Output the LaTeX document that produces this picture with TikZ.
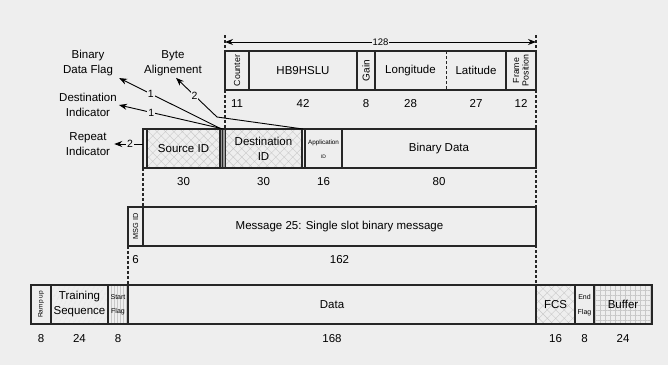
\documentclass[tikz,border=0pt]{standalone}
\usepackage{fontspec}
\setmainfont{Liberation Sans}
\usetikzlibrary{arrows.meta,patterns.meta}
\definecolor{bg}{RGB}{238,238,238}
\definecolor{hatchgray}{RGB}{200,200,200}
\tikzset{
  field/.style={draw=black!85,line width=1.2pt},
  txt/.style={font=\fontsize{11.5}{15}\selectfont,align=center,inner sep=1pt},
  side/.style={rotate=90,align=center,inner sep=0pt},
  tiny/.style={font=\fontsize{7}{14.5}\selectfont,align=center,inner sep=0pt},
  guide/.style={draw=black!85,line width=1.2pt,dash pattern=on 3pt off 2pt},
  lead/.style={line width=0.9pt,-{Stealth[length=8pt,width=6pt]}},
  lnum/.style={fill=bg,inner sep=1pt,font=\fontsize{10.5}{12}\selectfont},
  xhatch/.style={pattern={Hatch[angle=45,distance=6pt,line width=0.4pt]},pattern color=hatchgray},
  grid hatch/.style={pattern={Hatch[angle=0,distance=5pt,line width=0.4pt]},pattern color=hatchgray},
  slant hatch/.style={pattern={Lines[angle=60,distance=4pt,line width=0.4pt]},pattern color=hatchgray},
  vert hatch/.style={pattern={Lines[angle=90,distance=3pt,line width=0.4pt]},pattern color=hatchgray},
}
\begin{document}
\begin{tikzpicture}[x=1pt,y=-1pt]
	\useasboundingbox[fill=bg] (0,0) rectangle (668,365);
	% dashed guides between the rows
	\draw[guide] (225,35) -- (225,129);
	\draw[guide] (536,35) -- (536,285);
	\draw[guide] (143,168) -- (143,207);
	\draw[guide] (128,246) -- (128,285);
	% 128 bit span
	\coordinate (spanl) at (225,42);
	\coordinate (spanr) at (536,42);
	\draw[line width=0.9pt,{Stealth[length=8pt,width=6pt]}-{Stealth[length=8pt,width=6pt]}] (spanl) -- node[lnum,font=\fontsize{9.5}{11}\selectfont] (t128) {128} (spanr);
	% row 1: binary data
	\draw[field] (225,51) rectangle (536,90);
	\draw[field] (249,51) -- (249,90) (357,51) -- (357,90) (375,51) -- (375,90) (506,51) -- (506,90);
	\draw[draw=black!85,line width=0.9pt,dash pattern=on 3pt off 2pt] (446,51) -- (446,90); % Longitude/Latitude
	\node[side,font=\fontsize{8.8}{10}\selectfont] (ctr) at (237,70.5) {Counter};
	\node[txt] (call) at (303,70.5) {HB9HSLU};
	\node[side,font=\fontsize{10}{10}\selectfont] (gain) at (366,70.5) {Gain};
	\node[txt] (lon) at (410.5,70.5) {Longitude};
	\node[txt] (lat) at (476,70.5) {Latitude};
	\node[side,font=\fontsize{8.8}{9.5}\selectfont] (fpos) at (521,70.5) {Frame\\Position};
	\node[txt] (b11) at (237,103.5) {11};
	\node[txt] (b42) at (303,103.5) {42};
	\node[txt] (b8a) at (366,103.5) {8};
	\node[txt] (b28) at (410.5,103.5) {28};
	\node[txt] (b27) at (476,103.5) {27};
	\node[txt] (b12) at (521,103.5) {12};
	% row 2: message 25 fields
	\draw[field,xhatch] (147,129) rectangle (220,168);
	\draw[field,xhatch] (225,129) rectangle (302,168);
	\draw[draw=black!85,line width=0.6pt,fill=black!40] (220,129) rectangle (222.5,168) (222.5,129) rectangle (225,168);
	\draw[field] (143,129) rectangle (536,168);
	\draw[field] (147,129) -- (147,168) (302,129) -- (302,168) (305,129) -- (305,168) (342,129) -- (342,168);
	\node[txt] (src) at (183.5,148.5) {Source ID};
	\node[txt] (dst) at (263.5,148.5) {Destination\\ID};
	\node[align=center,inner sep=0pt,font=\fontsize{6.3}{14}\selectfont] (app) at (323.5,149) {Application\\{\fontsize{5}{6}\selectfont ID}};
	\node[txt] (bin) at (439,148.5) {Binary Data};
	\node[txt] (b30a) at (183.5,181.5) {30};
	\node[txt] (b30b) at (263.5,181.5) {30};
	\node[txt] (b16a) at (323.5,181.5) {16};
	\node[txt] (b80) at (439,181.5) {80};
	% labels of the small fields
	\node[txt] (bdf) at (88,63) {Binary\\Data Flag};
	\node[txt] (ba) at (173,63) {Byte\\Alignement};
	\node[txt] (di) at (88,105) {Destination\\Indicator};
	\node[txt] (ri) at (88,144) {Repeat\\Indicator};
	\coordinate (bdfbit) at (221.5,129);
	\coordinate (dibit) at (223.5,129);
	\coordinate (babit) at (303,129);
	\coordinate (babend) at (217,117);
	\coordinate (ribit) at (143,144);
	\draw[lead] (bdfbit) -- node[lnum,pos=.69] (nbdf) {1} ([xshift=5pt,yshift=-1pt]bdf.south east);
	\draw[lead] (dibit) -- node[lnum,pos=.69] (ndi) {1} ([xshift=1pt]di.east);
	\draw[line width=0.9pt] (babit) -- (babend);
	\draw[lead] (babend) -- node[lnum,pos=.55] (nba) {2} ([xshift=3pt,yshift=-1pt]ba.south);
	\draw[lead] (ribit) -- node[lnum,pos=.45] (nri) {2} ([xshift=3pt]ri.east);
	% row 3: message 25
	\draw[field] (128,207) rectangle (536,246);
	\draw[field] (143,207) -- (143,246);
	\node[side,font=\fontsize{7.3}{8}\selectfont] (msgid) at (135.5,226.5) {MSG ID};
	\node[txt] (msg) at (339.5,226.5) {Message 25: Single slot binary message};
	\node[txt] (b6) at (135.5,260) {6};
	\node[txt] (b162) at (339.5,260) {162};
	% row 4: AIS frame
	\draw[field,slant hatch] (51,285) rectangle (108,324);
	\draw[field,vert hatch] (108,285) rectangle (128,324);
	\draw[field,xhatch] (536,285) rectangle (575,324);
	\draw[field,grid hatch] (594,285) rectangle (652,324);
	\draw[field] (31,285) rectangle (652,324);
	\draw[field] (51,285) -- (51,324) (575,285) -- (575,324);
	\node[side,font=\fontsize{6.5}{7}\selectfont] (ramp) at (41,304.5) {Ramp up};
	\node[txt] (train) at (79.5,304.5) {Training\\Sequence};
	\node[tiny] (sflag) at (118,305) {Start\\Flag};
	\node[txt] (data) at (332,304.5) {Data};
	\node[txt] (fcs) at (555.5,304.5) {FCS};
	\node[tiny] (eflag) at (584.5,305) {End\\Flag};
	\node[txt] (buf) at (623,304.5) {Buffer};
	\node[txt] (b8b) at (41,338.5) {8};
	\node[txt] (b24a) at (79.5,338.5) {24};
	\node[txt] (b8c) at (118,338.5) {8};
	\node[txt] (b168) at (332,338.5) {168};
	\node[txt] (b16b) at (555.5,338.5) {16};
	\node[txt] (b8d) at (584.5,338.5) {8};
	\node[txt] (b24b) at (623,338.5) {24};
\end{tikzpicture}
\end{document}
